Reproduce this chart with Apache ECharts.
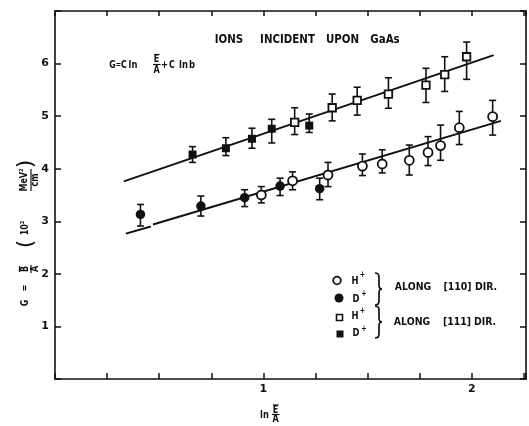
<!DOCTYPE html>
<html>
<head>
<meta charset="utf-8">
<script src="https://cdn.jsdelivr.net/npm/echarts/dist/echarts.min.js"></script>
<style>
  html, body { margin: 0; padding: 0; background: #fff; }
  #chart { width: 529px; height: 426px; }
</style>
</head>
<body>
<div id="chart"></div>
<script>
// [110] direction, H+ (open circles)
const h110X  = [0.99, 1.14, 1.31, 1.475, 1.57, 1.70, 1.79, 1.85, 1.94, 2.10];
const h110Y  = [3.50, 3.77, 3.88, 4.05, 4.09, 4.16, 4.31, 4.44, 4.78, 4.99];
const h110Lo = [3.35, 3.60, 3.66, 3.87, 3.92, 3.88, 4.06, 4.16, 4.46, 4.64];
const h110Hi = [3.66, 3.94, 4.12, 4.28, 4.36, 4.45, 4.61, 4.83, 5.09, 5.30];
// [110] direction, D+ (filled circles)
const d110X  = [0.41, 0.70, 0.91, 1.08, 1.27];
const d110Y  = [3.13, 3.29, 3.45, 3.67, 3.62];
const d110Lo = [2.91, 3.10, 3.28, 3.49, 3.41];
const d110Hi = [3.32, 3.48, 3.60, 3.82, 3.82];
// [111] direction, H+ (open squares)
const h111X  = [1.15, 1.33, 1.45, 1.60, 1.78, 1.87, 1.975];
const h111Y  = [4.88, 5.16, 5.30, 5.42, 5.59, 5.79, 6.13];
const h111Lo = [4.65, 4.91, 5.02, 5.15, 5.26, 5.47, 5.70];
const h111Hi = [5.16, 5.42, 5.55, 5.73, 5.91, 6.13, 6.41];
// [111] direction, D+ (filled squares)
const d111X  = [0.66, 0.82, 0.945, 1.04, 1.22];
const d111Y  = [4.27, 4.39, 4.57, 4.76, 4.82];
const d111Lo = [4.12, 4.25, 4.39, 4.49, 4.69];
const d111Hi = [4.42, 4.59, 4.77, 4.94, 5.04];
// fitted lines G = C ln(E/A) + C ln b
const fit110aX = [0.34, 0.46];
const fit110aY = [2.765, 2.90];
const fit110bX = [0.47, 2.14];
const fit110bY = [2.94, 4.91];
const fit111X  = [0.33, 2.105];
const fit111Y  = [3.76, 6.16];
// tick labels
const xLabels = [1, 2];
const yLabels = [1, 2, 3, 4, 5, 6];

const INK = '#111';
const FONT = 'DejaVu Sans';

function pts(xs, ys) { return xs.map((x, i) => [x, ys[i]]); }
function bars(xs, lo, hi) { return xs.map((x, i) => [x, lo[i], hi[i]]); }

function errorBars(data) {
  return {
    type: 'custom',
    z: 2,
    silent: true,
    encode: { x: 0, y: [1, 2] },
    data: data,
    renderItem(params, api) {
      const x = api.value(0);
      const top = api.coord([x, api.value(2)]);
      const bot = api.coord([x, api.value(1)]);
      const w = 3.5;
      const st = { stroke: INK, lineWidth: 1.6 };
      return {
        type: 'group',
        children: [
          { type: 'line', shape: { x1: top[0], y1: top[1], x2: bot[0], y2: bot[1] }, style: st },
          { type: 'line', shape: { x1: top[0] - w, y1: top[1], x2: top[0] + w, y2: top[1] }, style: st },
          { type: 'line', shape: { x1: bot[0] - w, y1: bot[1], x2: bot[0] + w, y2: bot[1] }, style: st }
        ]
      };
    }
  };
}

function fitLine(xs, ys) {
  return {
    type: 'line', z: 1, silent: true, symbol: 'none',
    lineStyle: { color: INK, width: 2 },
    data: pts(xs, ys)
  };
}

function marks(xs, ys, symbol, size, open) {
  return {
    type: 'scatter', z: 3, silent: true,
    symbol: symbol, symbolSize: size,
    itemStyle: open
      ? { color: '#fff', borderColor: INK, borderWidth: 1.8, opacity: 1 }
      : { color: INK, opacity: 1 },
    data: pts(xs, ys)
  };
}

// narrow, tall lettering like the hand-lettered original
function txt(text, x, y, size, align, sx, weight) {
  return {
    type: 'text', x: x, y: y, scaleX: sx || 0.8,
    style: {
      text: text, fill: INK,
      font: (weight || 'bold') + ' ' + size + 'px "' + FONT + '"',
      textAlign: align || 'center', textVerticalAlign: 'middle'
    }
  };
}
function seg(x1, y1, x2, y2, w) {
  return { type: 'line', shape: { x1, y1, x2, y2 }, style: { stroke: INK, lineWidth: w || 1.2 } };
}
function brace(x, y1, y2) {
  const m = (y1 + y2) / 2;
  const st = { stroke: INK, lineWidth: 1.7, fill: null };
  return {
    type: 'group',
    children: [
      { type: 'bezierCurve', shape: { x1: x, y1: y1, cpx1: x + 4, cpy1: y1, x2: x + 4, y2: y1 + 4 }, style: st },
      seg(x + 4, y1 + 4, x + 4, m - 4, 1.7),
      { type: 'bezierCurve', shape: { x1: x + 4, y1: m - 4, cpx1: x + 4, cpy1: m, x2: x + 7, y2: m }, style: st },
      { type: 'bezierCurve', shape: { x1: x + 7, y1: m, cpx1: x + 4, cpy1: m, x2: x + 4, y2: m + 4 }, style: st },
      seg(x + 4, m + 4, x + 4, y2 - 4, 1.7),
      { type: 'bezierCurve', shape: { x1: x + 4, y1: y2 - 4, cpx1: x + 4, cpy1: y2, x2: x, y2: y2 }, style: st }
    ]
  };
}

const axisCommon = {
  type: 'value',
  splitLine: { show: false },
  axisLine: { show: true, onZero: false, lineStyle: { color: INK, width: 1.6 } },
  axisTick: { show: true, inside: true, length: 6, lineStyle: { color: INK, width: 1.5 } }
};

const chart = echarts.init(document.getElementById('chart'), null, { renderer: 'canvas' });

chart.setOption({
  animation: false,
  backgroundColor: '#fff',
  grid: { left: 55, top: 11, right: 1, bottom: 47 },
  xAxis: [
    Object.assign({}, axisCommon, {
      position: 'bottom', min: 0, max: 2.26, interval: 0.25,
      axisLabel: {
        margin: 5, color: INK, fontFamily: FONT, fontWeight: 'bold', fontSize: 11,
        formatter: v => xLabels.indexOf(v) >= 0 ? String(v) : ''
      }
    }),
    Object.assign({}, axisCommon, {
      position: 'top', min: 0, max: 2.26, interval: 0.25,
      axisTick: { show: true, inside: true, length: 5, lineStyle: { color: INK, width: 1.5 } },
      axisLabel: { show: false }
    })
  ],
  yAxis: [
    Object.assign({}, axisCommon, {
      position: 'left', min: 0, max: 7, interval: 1,
      axisLabel: {
        margin: 6, color: INK, fontFamily: FONT, fontWeight: 'bold', fontSize: 11,
        formatter: v => yLabels.indexOf(v) >= 0 ? String(v) : ''
      }
    }),
    Object.assign({}, axisCommon, {
      position: 'right', min: 0, max: 7, interval: 1,
      axisLabel: { show: false }
    })
  ],
  series: [
    fitLine(fit110aX, fit110aY),
    fitLine(fit110bX, fit110bY),
    fitLine(fit111X, fit111Y),
    errorBars(bars(h110X, h110Lo, h110Hi)),
    errorBars(bars(d110X, d110Lo, d110Hi)),
    errorBars(bars(h111X, h111Lo, h111Hi)),
    errorBars(bars(d111X, d111Lo, d111Hi)),
    marks(h110X, h110Y, 'circle', 9, true),
    marks(d110X, d110Y, 'circle', 9.5, false),
    marks(h111X, h111Y, 'rect', 7.5, true),
    marks(d111X, d111Y, 'rect', 8, false)
  ],
  graphic: [
    // title
    txt('IONS', 229, 40, 12.5, 'center', 0.82),
    txt('INCIDENT', 287.5, 40, 12.5, 'center', 0.82),
    txt('UPON', 342.5, 40, 12.5, 'center', 0.82),
    txt('GaAs', 385, 40, 12.5, 'center', 0.82),
    // formula G = C ln E/A + C ln b
    txt('G', 112.5, 65, 10.5, 'center', 0.75),
    txt('=', 118.5, 65, 9, 'center', 0.7),
    txt('C', 124, 65, 10.5, 'center', 0.75),
    txt('ln', 133, 65, 10.5, 'center', 0.8),
    txt('E', 156.5, 59.5, 10, 'center', 0.8),
    seg(154, 54.5, 159.5, 54.5),
    seg(153, 64.5, 160.5, 64.5),
    txt('A', 156.5, 70.5, 10, 'center', 0.8),
    txt('+', 164.5, 65, 10.5, 'center', 0.8),
    txt('C', 172, 65, 10.5, 'center', 0.75),
    txt('ln', 183.5, 65, 10.5, 'center', 0.8),
    txt('b', 192, 65, 10.5, 'center', 0.8),
    // x axis name: ln E/A
    txt('ln', 264.5, 415, 10.5),
    txt('E', 275.5, 410, 10),
    seg(273, 405, 278.5, 405),
    seg(272, 414.5, 279.5, 414.5),
    txt('A', 275.5, 419.5, 10),
    // y axis name, rotated
    {
      type: 'group', x: 26, y: 232, rotation: Math.PI / 2,
      children: [
        txt('G', -71, -1, 10),
        txt('=', -56, -1, 10),
        txt('B', -37, -1, 10),
        seg(-40, -6.5, -34, -6.5),
        seg(-41, 5, -33, 5),
        txt('A', -37, 9.5, 10),
        txt('(', -12, 0, 22, 'center', 1, 'normal'),
        txt('10\u00b2', 4, -1, 10),
        txt('MeV\u00b2', 52, -1.5, 10),
        seg(41, 5, 63, 5),
        txt('cm', 52, 9.5, 10),
        txt(')', 68, 0, 22, 'center', 1, 'normal')
      ]
    },
    // legend
    { type: 'circle', shape: { cx: 337, cy: 280.5, r: 3.8 }, style: { fill: '#fff', stroke: INK, lineWidth: 1.8 } },
    { type: 'circle', shape: { cx: 339, cy: 298, r: 4.5 }, style: { fill: INK } },
    { type: 'rect', shape: { x: 336.5, y: 314.5, width: 6, height: 6 }, style: { fill: '#fff', stroke: INK, lineWidth: 1.6 } },
    { type: 'rect', shape: { x: 336.5, y: 330.5, width: 7, height: 7 }, style: { fill: INK } },
    txt('H', 355, 281, 10.5),
    txt('+', 362.5, 275, 8),
    txt('D', 356, 299, 10.5),
    txt('+', 364, 294, 8),
    txt('H', 355, 316.5, 10.5),
    txt('+', 362.5, 311, 8),
    txt('D', 356, 333.5, 10.5),
    txt('+', 364, 328.5, 8),
    brace(375, 273, 305),
    brace(375, 306, 338),
    txt('ALONG', 413, 287, 11, 'center', 0.85),
    txt('[110]', 457.5, 287, 11, 'center', 0.85),
    txt('DIR.', 486, 287, 11, 'center', 0.85),
    txt('ALONG', 412, 322, 11, 'center', 0.85),
    txt('[111]', 457, 322, 11, 'center', 0.85),
    txt('DIR.', 485, 322, 11, 'center', 0.85)
  ]
});
</script>
</body>
</html>
